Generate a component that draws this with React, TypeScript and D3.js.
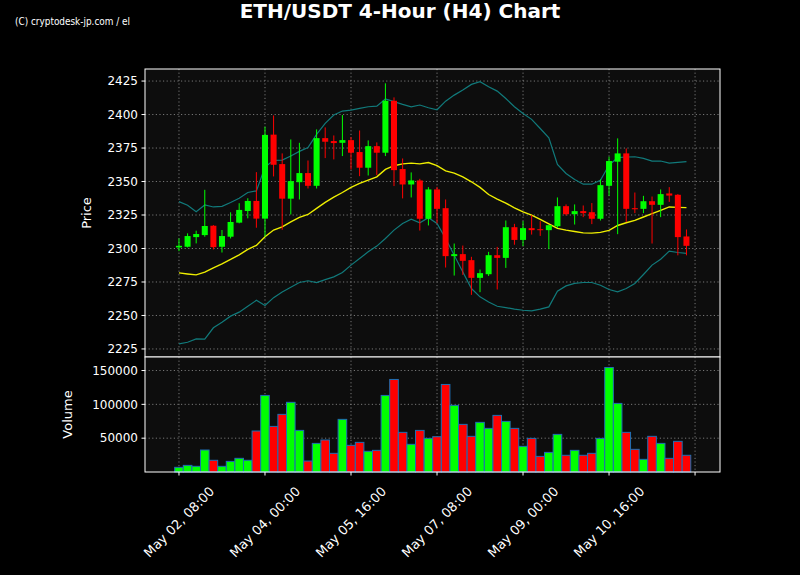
import React from 'react';
import * as d3 from 'd3';

// OHLC per 4h candle (candle 0 = May 02 08:00)
const opens = [2300.8, 2301.3, 2308.5, 2310, 2317, 2301.3, 2308.8, 2319.3, 2328, 2335.5,
  2322.3, 2385, 2363, 2337.2, 2349.5, 2356.3, 2346.8, 2382.4, 2380.2, 2378.9,
  2380.9, 2372, 2360.3, 2376.4, 2371.5, 2410.3, 2359.3, 2347.8, 2350.8, 2322.2,
  2344.1, 2330.1, 2294.3, 2295.8, 2291.3, 2278.1, 2280.8, 2295, 2293, 2315.9,
  2306.4, 2315.2, 2314.4, 2313.7, 2316.6, 2331.6, 2325.6, 2327.9, 2327.1, 2322.2,
  2346.8, 2364.8, 2371, 2330.1, 2329.6, 2335.3, 2332.6, 2341.1, 2340.1, 2309];
const closes = [2302, 2309.3, 2310.8, 2316.8, 2301, 2309.3, 2319.8, 2328.8, 2335.5, 2322.3,
  2384.8, 2362.5, 2337.2, 2350.3, 2356.3, 2346.8, 2382.4, 2379.7, 2378.7, 2380.9,
  2371.5, 2360.3, 2376.4, 2371.5, 2410.3, 2358.5, 2347.8, 2350.8, 2322.2, 2344.1,
  2329.6, 2294.3, 2295.8, 2290.8, 2278.1, 2281.6, 2295, 2293, 2315.9, 2306.4,
  2315.2, 2313.7, 2313.7, 2317.4, 2331.6, 2325.6, 2327.9, 2326.4, 2322.2, 2347.3,
  2365.3, 2371, 2329.6, 2329.3, 2335.3, 2332.6, 2340.6, 2339.5, 2308.5, 2302];
const highs = [2307.5, 2311.3, 2313.3, 2343.8, 2317.5, 2313.8, 2327, 2333.8, 2337.5, 2357,
  2390.9, 2399.3, 2371, 2381.4, 2378.9, 2365.7, 2388.9, 2390.4, 2384.4, 2399.6,
  2383.2, 2388.1, 2380.7, 2379.2, 2423.3, 2412.8, 2367.2, 2356.8, 2352, 2345.8,
  2346, 2336.6, 2303.7, 2302.2, 2293.8, 2284.3, 2297.5, 2301.2, 2320.9, 2318.4,
  2320.4, 2324.9, 2320.4, 2317.4, 2338.1, 2332.9, 2332.9, 2332.1, 2333.9, 2351.6,
  2368.5, 2382.2, 2374.7, 2341.8, 2339.3, 2338.8, 2344.1, 2345.8, 2340.6, 2314.2];
const lows = [2298, 2300.8, 2303.8, 2308.8, 2299.3, 2297, 2307.5, 2318.8, 2322.5, 2315.5,
  2308.8, 2353.8, 2314, 2325.4, 2336.6, 2344.8, 2344.8, 2367.5, 2366.5, 2369,
  2359, 2354, 2354.5, 2354.8, 2369, 2346.6, 2337.4, 2338.1, 2313.4, 2317.2,
  2318.7, 2285.8, 2279.8, 2280.3, 2265.4, 2267.4, 2279.5, 2269.4, 2285.5, 2302.8,
  2301.8, 2310.4, 2309.4, 2299.5, 2315.4, 2324.6, 2317.9, 2323.4, 2318.2, 2320.9,
  2339.3, 2310.7, 2319.7, 2326.4, 2326.4, 2303.7, 2323.4, 2334.8, 2294.9, 2294.9];
const volumes = [6900, 9800, 8400, 32500, 17300, 8400, 15700, 20200, 17300, 60600,
  113200, 67400, 85200, 103000, 61500, 16200, 42300, 47300, 27600, 77800,
  39400, 43800, 30600, 32000, 113200, 136800, 58600, 40900, 61500, 49700,
  52200, 129400, 98500, 70400, 52700, 73400, 64500, 83700, 74800, 64500,
  37900, 49700, 23100, 29000, 55600, 24700, 32000, 24700, 27600, 49700,
  154500, 101400, 58600, 33500, 18700, 52700, 42300, 20200, 45300, 24700];

// Bollinger bands as drawn in the reference
const bbUpper = [2335, 2332.3, 2327.5, 2332.5, 2331, 2331.5, 2334.3, 2337.5, 2341.8, 2343,
  2360.8, 2365.8, 2366, 2369, 2372.5, 2375.4, 2385.2, 2393.4, 2399.6, 2402.6,
  2403.3, 2404.6, 2405.8, 2406.3, 2411.6, 2409.6, 2407.6, 2405.8, 2407.1, 2405.1,
  2403.6, 2410, 2414.5, 2418.3, 2422.5, 2424.5, 2420.8, 2417.5, 2412, 2405.8,
  2400.8, 2396.4, 2389.6, 2382.7, 2362.7, 2356, 2351.5, 2348, 2348, 2351,
  2362.3, 2367.8, 2368.3, 2368.5, 2367.3, 2365.3, 2365.3, 2363.8, 2364.3, 2364.8];
const bbMid = [2281.8, 2281, 2280.3, 2282.3, 2285.5, 2288.5, 2291.8, 2295.3, 2299.3, 2302.3,
  2308.8, 2313.8, 2316.2, 2319.9, 2323.2, 2325.4, 2329.9, 2334.4, 2338.3, 2341.8,
  2345.6, 2348.6, 2351, 2353.5, 2359, 2361.8, 2363.2, 2363.7, 2363.2, 2364.2,
  2361.8, 2358, 2356.3, 2353.5, 2349.8, 2345.6, 2340.3, 2336.9, 2333.9, 2330.4,
  2327.4, 2324.9, 2321.7, 2318.4, 2315, 2313.7, 2312.7, 2311.7, 2311.5, 2312,
  2313.5, 2317.2, 2319.2, 2321, 2323.5, 2326, 2328.5, 2331, 2330.7, 2330.5];
const bbLower = [2228.8, 2230, 2232.5, 2232.3, 2240.8, 2245, 2249.5, 2252.5, 2256.8, 2261.3,
  2257.5, 2263.3, 2267.6, 2271.1, 2274.6, 2275.9, 2274.6, 2276.8, 2278.8, 2282.1,
  2287.6, 2292.5, 2297.5, 2301.8, 2307.5, 2313.7, 2318.7, 2321.9, 2319.2, 2322.9,
  2318.7, 2307.5, 2295, 2282.5, 2270.1, 2263.9, 2260.1, 2256.9, 2255.9, 2254.7,
  2253.9, 2253.4, 2254.7, 2256.4, 2268.1, 2272.1, 2273.9, 2274.6, 2274.6, 2272.6,
  2269.4, 2267.6, 2270.1, 2273.9, 2280.6, 2287.6, 2292, 2298, 2297, 2296.3];

const xTickIdx = [0, 10, 20, 30, 40, 50, 60];
const xTickLabels = ['May 02, 08:00', 'May 04, 00:00', 'May 05, 16:00', 'May 07, 08:00',
  'May 09, 00:00', 'May 10, 16:00', ''];
const priceTicks = [2225, 2250, 2275, 2300, 2325, 2350, 2375, 2400, 2425];
const volumeTicks = [50000, 100000, 150000];

const UP = '#00ff00';
const DOWN = '#ff0000';
const FONT = 'DejaVu Sans, sans-serif';

export default function App() {
  const W = 800, H = 575;
  const left = 145, right = 720;
  const pTop = 69, pBottom = 357, vBottom = 472;

  const x = d3.scaleLinear().domain([-3.95, 62.9]).range([left, right]);
  const yP = d3.scaleLinear().domain([2219, 2434]).range([pBottom, pTop]);
  const yV = d3.scaleLinear().domain([0, 170000]).range([vBottom, pBottom]);

  const step = x(1) - x(0);
  const bodyW = step * 0.7;
  const idx = d3.range(opens.length);

  const bandLine = (vals: number[]) =>
    d3.line<number>().x((_, i) => x(i)).y((v) => yP(v))(vals) || '';

  const grid = { stroke: '#8a8a8a', strokeWidth: 1, strokeDasharray: '1.2,2.4', opacity: 0.85 };

  return (
    <svg width={W} height={H} style={{ display: 'block', position: 'absolute', left: 0, top: 0, background: '#000' }}>
      <rect x={0} y={0} width={W} height={H} fill="#000" />
      <text x={400} y={18} textAnchor="middle" fill="#fff" fontFamily={FONT} fontWeight="bold" fontSize={20}>
        ETH/USDT 4-Hour (H4) Chart
      </text>
      <text x={15} y={25} fill="#fff" fontFamily={FONT} fontSize={10} textLength={115} lengthAdjust="spacingAndGlyphs">
        (C) cryptodesk-jp.com / el
      </text>

      {/* price panel */}
      <rect x={left} y={pTop} width={right - left} height={pBottom - pTop} fill="#0d0d0d" />
      <clipPath id="pclip"><rect x={left} y={pTop} width={right - left} height={pBottom - pTop} /></clipPath>
      {priceTicks.map((t) => (
        <line key={'pg' + t} x1={left} x2={right} y1={yP(t)} y2={yP(t)} {...grid} />
      ))}
      {xTickIdx.map((t) => (
        <line key={'xg' + t} x1={x(t)} x2={x(t)} y1={pTop} y2={pBottom} {...grid} />
      ))}
      <g clipPath="url(#pclip)">
        <path d={bandLine(bbUpper)} fill="none" stroke="#117a7b" strokeWidth={1.2} />
        <path d={bandLine(bbLower)} fill="none" stroke="#117a7b" strokeWidth={1.2} />
        <path d={bandLine(bbMid)} fill="none" stroke="#eeee00" strokeWidth={1.4} />
        {idx.map((i) => {
          const up = closes[i] >= opens[i];
          const c = up ? UP : DOWN;
          const top = yP(Math.max(opens[i], closes[i]));
          const bot = yP(Math.min(opens[i], closes[i]));
          return (
            <g key={'c' + i}>
              <line x1={x(i)} x2={x(i)} y1={yP(highs[i])} y2={yP(lows[i])} stroke={c} strokeWidth={1} />
              <rect x={x(i) - bodyW / 2} y={top} width={bodyW} height={Math.max(1, bot - top)} fill={c} />
            </g>
          );
        })}
      </g>
      <rect x={left} y={pTop} width={right - left} height={pBottom - pTop} fill="none" stroke="#fff" strokeWidth={1} />
      {priceTicks.map((t) => (
        <g key={'pt' + t}>
          <line x1={left - 3.5} x2={left} y1={yP(t)} y2={yP(t)} stroke="#fff" />
          <text x={left - 7} y={yP(t)} dy="0.35em" textAnchor="end" fill="#fff" fontFamily={FONT} fontSize={12}>{t}</text>
        </g>
      ))}
      <text transform={`translate(91,${(pTop + pBottom) / 2}) rotate(-90)`} textAnchor="middle" fill="#fff" fontFamily={FONT} fontSize={13}>Price</text>

      {/* volume panel */}
      <rect x={left} y={pBottom} width={right - left} height={vBottom - pBottom} fill="#0d0d0d" />
      {volumeTicks.map((t) => (
        <line key={'vg' + t} x1={left} x2={right} y1={yV(t)} y2={yV(t)} {...grid} />
      ))}
      {xTickIdx.map((t) => (
        <line key={'vxg' + t} x1={x(t)} x2={x(t)} y1={pBottom} y2={vBottom} {...grid} />
      ))}
      {idx.map((i) => (
        <rect key={'v' + i} x={x(i) - step / 2} y={yV(volumes[i])} width={step} height={vBottom - yV(volumes[i])}
          fill={closes[i] >= opens[i] ? UP : DOWN} stroke="#1f6fb4" strokeWidth={1} />
      ))}
      <rect x={left} y={pBottom} width={right - left} height={vBottom - pBottom} fill="none" stroke="#fff" strokeWidth={1} />
      {volumeTicks.map((t) => (
        <g key={'vt' + t}>
          <line x1={left - 3.5} x2={left} y1={yV(t)} y2={yV(t)} stroke="#fff" />
          <text x={left - 7} y={yV(t)} dy="0.35em" textAnchor="end" fill="#fff" fontFamily={FONT} fontSize={12}>{t}</text>
        </g>
      ))}
      <text transform={`translate(72,${(pBottom + vBottom) / 2}) rotate(-90)`} textAnchor="middle" fill="#fff" fontFamily={FONT} fontSize={13}>Volume</text>

      {xTickIdx.map((t, k) => (
        <g key={'xt' + t}>
          <line x1={x(t)} x2={x(t)} y1={vBottom} y2={vBottom + 3.5} stroke="#fff" />
          {xTickLabels[k] && (
            <text transform={`translate(${x(t)},${vBottom + 50}) rotate(-45)`} textAnchor="middle" dy="0.35em"
              fill="#fff" fontFamily={FONT} fontSize={13}>{xTickLabels[k]}</text>
          )}
        </g>
      ))}
    </svg>
  );
}
